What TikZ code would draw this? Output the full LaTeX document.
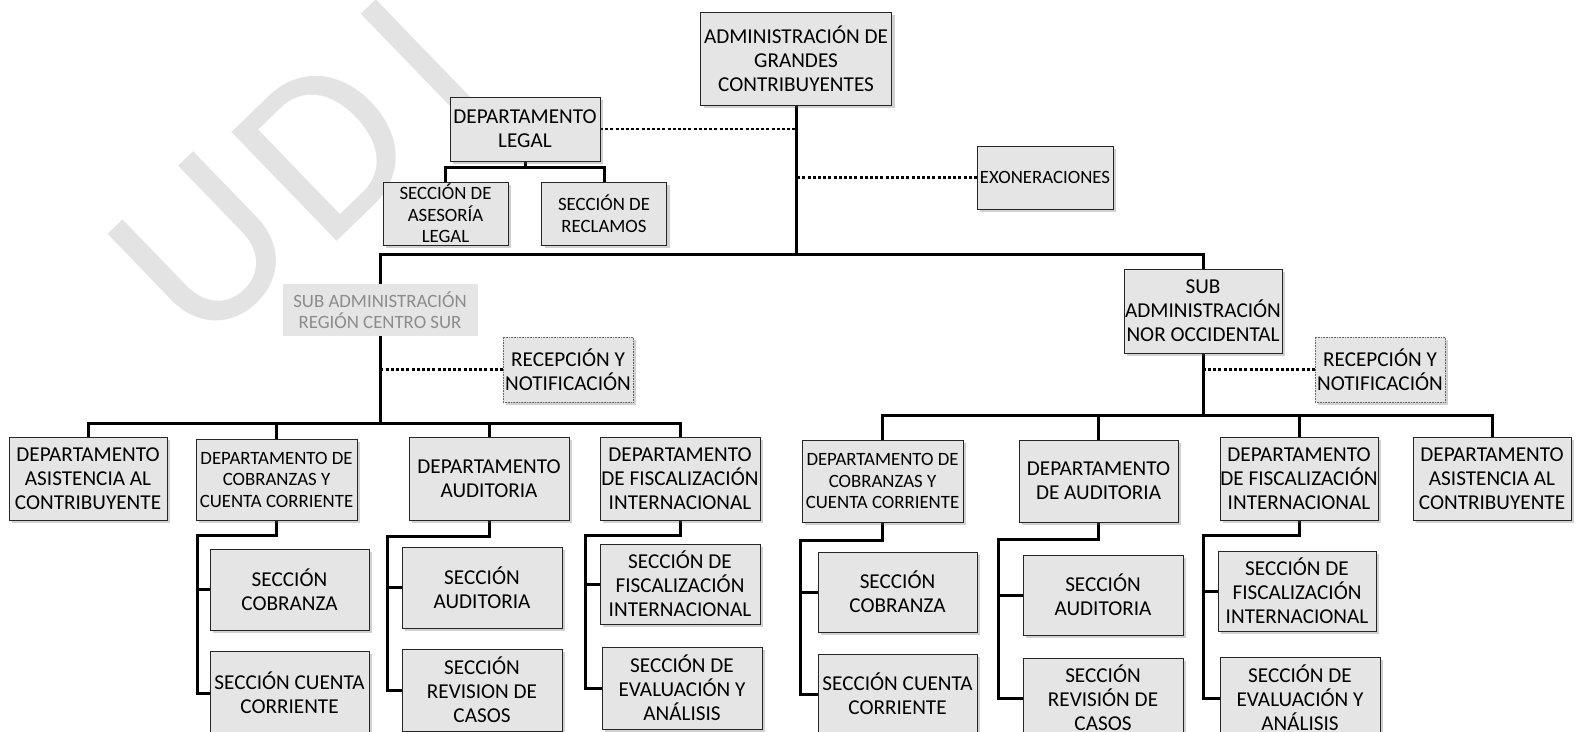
\documentclass[tikz,border=0pt]{standalone}
\usepackage{fontspec}
\setmainfont{Carlito}
\usetikzlibrary{backgrounds,shadows,calc}
\newcommand\fsbig{\fontsize{21.2}{24}\selectfont}
\newcommand\fssmall{\fontsize{18.8}{21.5}\selectfont}
\newcommand\fsmark{\fontsize{236}{236}\selectfont}
\begin{document}
\begin{tikzpicture}[x=1pt,y=-1pt,
orgbox/.style={draw=black!85,line width=1pt,fill=black!10,align=center,inner sep=0pt,outer sep=0pt,font=\fsbig,drop shadow={shadow xshift=3pt,shadow yshift=-3pt,opacity=0.3,fill=black!60}},
orgsmall/.style={orgbox,font=\fssmall},
recbox/.style={orgbox,draw=black!60,line width=0.6pt,densely dotted},
subbox/.style={fill=black!10,align=center,inner sep=0pt,outer sep=0pt,font=\fssmall,text=black!45},
markletter/.style={rotate=44,anchor=base,inner sep=0pt,text=black!11,font=\fsmark},
conn/.style={line width=3pt,line cap=rect},
dotline/.style={line width=2.5pt,dash pattern=on 3pt off 2.2pt}]
\useasboundingbox (0,0) rectangle (1576,731);
\clip (0,0) rectangle (1576,731);
\node[orgbox,minimum width=191,minimum height=93] (agc) at (796,58.5) {ADMINISTRACIÓN DE\\GRANDES\\CONTRIBUYENTES};
\node[orgbox,minimum width=150,minimum height=64] (dl) at (525,129) {DEPARTAMENTO\\LEGAL};
\node[orgsmall,minimum width=136,minimum height=63] (exo) at (1045,177.5) {EXONERACIONES};
\node[orgsmall,minimum width=125,minimum height=63] (sal) at (445.5,213.5) {SECCIÓN DE\\ASESORÍA\\LEGAL};
\node[orgsmall,minimum width=125,minimum height=63] (sr) at (604,213.5) {SECCIÓN DE\\RECLAMOS};
\node[subbox,minimum width=195,minimum height=52] (scs) at (380,310) {SUB ADMINISTRACIÓN\\REGIÓN CENTRO SUR};
\node[recbox,minimum width=130,minimum height=65] (rn1) at (568,369.5) {RECEPCIÓN Y\\NOTIFICACIÓN};
\node[orgbox,minimum width=158,minimum height=83] (d1) at (88,478.5) {DEPARTAMENTO\\ASISTENCIA AL\\CONTRIBUYENTE};
\node[orgsmall,minimum width=161,minimum height=81] (d2) at (276.5,479.5) {DEPARTAMENTO DE\\COBRANZAS Y\\CUENTA CORRIENTE};
\node[orgbox,minimum width=160,minimum height=83] (d3) at (489,478.5) {DEPARTAMENTO\\AUDITORIA};
\node[orgbox,minimum width=160,minimum height=83] (d4) at (680,478.5) {DEPARTAMENTO\\DE FISCALIZACIÓN\\INTERNACIONAL};
\node[orgbox,minimum width=159,minimum height=81] (s2a) at (289.5,589.5) {SECCIÓN\\COBRANZA};
\node[orgbox,minimum width=159,minimum height=84] (s2b) at (289.5,693) {SECCIÓN CUENTA\\CORRIENTE};
\node[orgbox,minimum width=160,minimum height=81] (s3a) at (482,587.5) {SECCIÓN\\AUDITORIA};
\node[orgbox,minimum width=160,minimum height=82] (s3b) at (482,690) {SECCIÓN\\REVISION DE\\CASOS};
\node[orgbox,minimum width=160,minimum height=80] (s4a) at (680,584) {SECCIÓN DE\\FISCALIZACIÓN\\INTERNACIONAL};
\node[orgbox,minimum width=160,minimum height=82] (s4b) at (682,688) {SECCIÓN DE\\EVALUACIÓN Y\\ANÁLISIS};
\node[orgbox,minimum width=158,minimum height=84] (sno) at (1203,311) {SUB\\ADMINISTRACIÓN\\NOR OCCIDENTAL};
\node[recbox,minimum width=130,minimum height=65] (rn2) at (1380,369.5) {RECEPCIÓN Y\\NOTIFICACIÓN};
\node[orgsmall,minimum width=161,minimum height=82] (r1) at (882.5,481) {DEPARTAMENTO DE\\COBRANZAS Y\\CUENTA CORRIENTE};
\node[orgbox,minimum width=159,minimum height=82] (r2) at (1098.5,481) {DEPARTAMENTO\\DE AUDITORIA};
\node[orgbox,minimum width=158,minimum height=83] (r3) at (1299,478.5) {DEPARTAMENTO\\DE FISCALIZACIÓN\\INTERNACIONAL};
\node[orgbox,minimum width=158,minimum height=83] (r4) at (1492,478.5) {DEPARTAMENTO\\ASISTENCIA AL\\CONTRIBUYENTE};
\node[orgbox,minimum width=159,minimum height=80] (t1a) at (897.5,592) {SECCIÓN\\COBRANZA};
\node[orgbox,minimum width=159,minimum height=80] (t1b) at (897.5,694) {SECCIÓN CUENTA\\CORRIENTE};
\node[orgbox,minimum width=160,minimum height=80] (t2a) at (1103,595) {SECCIÓN\\AUDITORIA};
\node[orgbox,minimum width=160,minimum height=80] (t2b) at (1103,698) {SECCIÓN\\REVISIÓN DE\\CASOS};
\node[orgbox,minimum width=158,minimum height=80] (t3a) at (1297,591) {SECCIÓN DE\\FISCALIZACIÓN\\INTERNACIONAL};
\node[orgbox,minimum width=160,minimum height=82] (t3b) at (1300,698) {SECCIÓN DE\\EVALUACIÓN Y\\ANÁLISIS};
\coordinate (lv1) at (0,254);
\coordinate (lv2) at (0,423);
\coordinate (lv3) at (0,415);
\coordinate (k2) at (197,535);
\coordinate (k3) at (387,536);
\coordinate (k4) at (585,535);
\coordinate (kr1) at (800,540);
\coordinate (kr2) at (998,539);
\coordinate (kr3) at (1203,535);
\begin{scope}[on background layer]
\node[markletter] (wmu) at (256,302) {U};
\node[markletter] (wmd) at (378,202) {D};
\node[markletter] (wmi) at (474,116) {I};
\draw[dotline] (dl.east) -- (dl.east -| agc.south);
\draw[dotline] (exo.west) -- (exo.west -| agc.south);
\draw[dotline] (rn1.west) -- (rn1.west -| scs.south);
\draw[dotline] (rn2.west) -- (rn2.west -| sno.south);
\draw[conn] (agc.south) -- (agc.south |- lv1) -| (scs.north);
\draw[conn] (agc.south |- lv1) -| (sno.north);
\draw[conn] (dl.south) -- ++(0,6) -| (sal.north);
\draw[conn] (dl.south) -- ++(0,6) -| (sr.north);
\draw[conn] (scs.south) -- (scs.south |- lv2);
\draw[conn] (d1.north) -- (d1.north |- lv2) -| (d4.north);
\draw[conn] (d2.north) -- (d2.north |- lv2);
\draw[conn] (d3.north) -- (d3.north |- lv2);
\draw[conn] (d2.south) |- (k2) |- (s2b.west);
\draw[conn] (k2 |- s2a.west) -- (s2a.west);
\draw[conn] (d3.south) |- (k3) |- (s3b.west);
\draw[conn] (k3 |- s3a.west) -- (s3a.west);
\draw[conn] (d4.south) |- (k4) |- (s4b.west);
\draw[conn] (k4 |- s4a.west) -- (s4a.west);
\draw[conn] (sno.south) -- (sno.south |- lv3);
\draw[conn] (r1.north) -- (r1.north |- lv3) -| (r4.north);
\draw[conn] (r2.north) -- (r2.north |- lv3);
\draw[conn] (r3.north) -- (r3.north |- lv3);
\draw[conn] (r1.south) |- (kr1) |- (t1b.west);
\draw[conn] (kr1 |- t1a.west) -- (t1a.west);
\draw[conn] (r2.south) |- (kr2) |- (t2b.west);
\draw[conn] (kr2 |- t2a.west) -- (t2a.west);
\draw[conn] (r3.south) |- (kr3) |- (t3b.west);
\draw[conn] (kr3 |- t3a.west) -- (t3a.west);
\end{scope}
\end{tikzpicture}
\end{document}
